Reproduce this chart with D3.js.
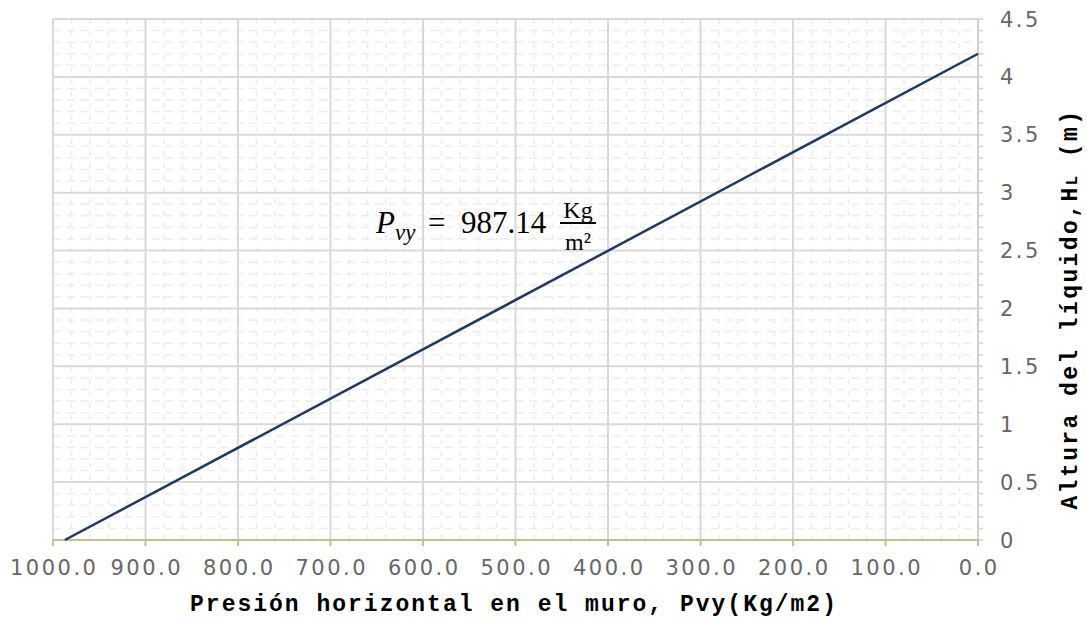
<!DOCTYPE html>
<html><head><meta charset="utf-8">
<script src="https://cdn.jsdelivr.net/npm/d3@7/dist/d3.min.js"></script>
<style>body{margin:0;background:#fff}</style>
</head><body>
<script>
const pressure = [987.14, 0];
const height = [0, 4.2];
const xTicks = [1000, 900, 800, 700, 600, 500, 400, 300, 200, 100, 0];
const yTicks = [0, 0.5, 1, 1.5, 2, 2.5, 3, 3.5, 4, 4.5];
const xTitle = "Presión horizontal en el muro, Pvy(Kg/m2)";
const yTitleMain = "Altura del líquido,H";
const yTitleSub = "L";
const yTitleEnd = " (m)";

const W = 1087, H = 617;
const m = {l: 53, r: 978, t: 19, b: 540};
const svg = d3.select("body").append("svg").attr("width", W).attr("height", H);
const x = d3.scaleLinear().domain([1000, 0]).range([m.l, m.r]);
const y = d3.scaleLinear().domain([0, 4.5]).range([m.b, m.t]);

// minor grid
const xMinor = d3.range(0, 1001, 20).filter(v => v % 100 !== 0);
const yMinor = d3.range(0, 46, 1).map(v => v / 10).filter(v => Math.round(v * 10) % 5 !== 0);
svg.append("g").selectAll("line").data(xMinor).join("line")
  .attr("x1", d => x(d)).attr("x2", d => x(d)).attr("y1", m.t).attr("y2", m.b)
  .attr("stroke", "#ececec").attr("stroke-width", 1.5).attr("stroke-dasharray", "5,7");
svg.append("g").selectAll("line").data(yMinor).join("line")
  .attr("y1", d => y(d)).attr("y2", d => y(d)).attr("x1", m.l).attr("x2", m.r)
  .attr("stroke", "#ececec").attr("stroke-width", 1.5).attr("stroke-dasharray", "8,6");

// major grid
svg.append("g").selectAll("line").data(xTicks).join("line")
  .attr("x1", d => x(d)).attr("x2", d => x(d)).attr("y1", m.t).attr("y2", m.b)
  .attr("stroke", "#d9d9d9").attr("stroke-width", 2);
svg.append("g").selectAll("line").data(yTicks).join("line")
  .attr("y1", d => y(d)).attr("y2", d => y(d)).attr("x1", m.l).attr("x2", m.r)
  .attr("stroke", "#d9d9d9").attr("stroke-width", 2);

// right axis
const yAll = d3.range(0, 46, 1).map(v => v / 10);
svg.append("line").attr("x1", m.r).attr("x2", m.r).attr("y1", m.t).attr("y2", m.b)
  .attr("stroke", "#d0d0d0").attr("stroke-width", 2);
svg.append("g").selectAll("line").data(yAll).join("line")
  .attr("x1", m.r).attr("x2", m.r + 5).attr("y1", d => y(d)).attr("y2", d => y(d))
  .attr("stroke", "#d0d0d0").attr("stroke-width", 1.5);
svg.append("g").selectAll("text").data(yTicks).join("text")
  .attr("x", 1000).attr("y", d => y(d)).attr("dy", "0.36em")
  .attr("font-family", "DejaVu Sans").attr("font-size", 21).attr("letter-spacing", 2.5)
  .attr("fill", "#666").text(d => d);

// bottom axis
svg.append("line").attr("x1", m.l).attr("x2", m.r).attr("y1", m.b).attr("y2", m.b)
  .attr("stroke", "#c9bc8e").attr("stroke-width", 2);
svg.append("g").selectAll("line").data(xTicks).join("line")
  .attr("x1", d => x(d)).attr("x2", d => x(d)).attr("y1", m.b).attr("y2", m.b + 6)
  .attr("stroke", "#c9bc8e").attr("stroke-width", 2);
svg.append("g").selectAll("text").data(xTicks).join("text")
  .attr("x", d => x(d) + 1.25).attr("y", 575).attr("text-anchor", "middle")
  .attr("font-family", "DejaVu Sans").attr("font-size", 21).attr("letter-spacing", 2.5)
  .attr("fill", "#666").text(d => d.toFixed(1));

// line
const pts = pressure.map((p, i) => [p, height[i]]);
svg.append("path").datum(pts)
  .attr("d", d3.line().x(d => x(d[0])).y(d => y(d[1])))
  .attr("fill", "none").attr("stroke", "#1f3a5f").attr("stroke-width", 2.5);

// titles
svg.append("text").attr("x", 514).attr("y", 611).attr("text-anchor", "middle")
  .attr("font-family", "Liberation Mono").attr("font-weight", "bold").attr("font-size", 23)
  .attr("letter-spacing", 2).attr("fill", "#000").text(xTitle);
const yt = svg.append("text").attr("transform", "translate(1077,309) rotate(-90)").attr("text-anchor", "middle")
  .attr("font-family", "Liberation Mono").attr("font-weight", "bold").attr("font-size", 23)
  .attr("letter-spacing", 2.4).attr("fill", "#000");
yt.append("tspan").text(yTitleMain);
yt.append("tspan").attr("font-size", 16).text(yTitleSub);
yt.append("tspan").text(yTitleEnd);

// annotation
const ann = svg.append("g").attr("font-family", "Liberation Serif").attr("fill", "#000");
ann.append("text").attr("x", 376).attr("y", 233).attr("font-size", 31).attr("font-style", "italic").text("P");
ann.append("text").attr("x", 395).attr("y", 240).attr("font-size", 23).attr("font-style", "italic").text("vy");
ann.append("text").attr("x", 428).attr("y", 233).attr("font-size", 31).text("=");
ann.append("text").attr("x", 461).attr("y", 233).attr("font-size", 31).text("987.14");
ann.append("text").attr("x", 578).attr("y", 218).attr("text-anchor", "middle").attr("font-size", 24).text("Kg");
ann.append("line").attr("x1", 560).attr("x2", 596).attr("y1", 223).attr("y2", 223).attr("stroke", "#000").attr("stroke-width", 2);
ann.append("text").attr("x", 578).attr("y", 250).attr("text-anchor", "middle").attr("font-size", 24).text("m²");
</script>
</body></html>
